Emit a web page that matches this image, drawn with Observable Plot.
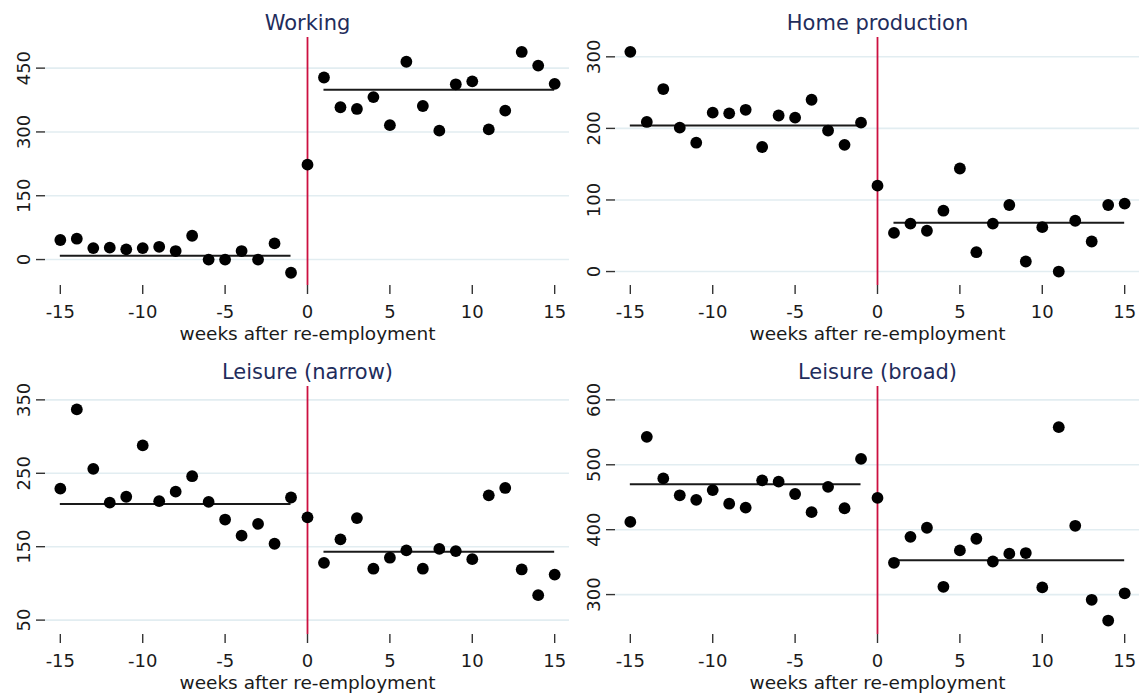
<!DOCTYPE html>
<html>
<head>
<meta charset="utf-8">
<script src="https://cdn.jsdelivr.net/npm/d3@7"></script>
<script src="https://cdn.jsdelivr.net/npm/@observablehq/plot@0.6"></script>
<style>
  html, body { margin: 0; padding: 0; background: #fff; }
  #grid { display: grid; grid-template-columns: 570px 570px; grid-template-rows: 349px 349px; width: 1140px; height: 698px; }
  #grid svg { display: block; }
</style>
</head>
<body>
<div id="grid"></div>
<script>
// ---- data ----
const weeks = [-15,-14,-13,-12,-11,-10,-9,-8,-7,-6,-5,-4,-3,-2,-1,0,1,2,3,4,5,6,7,8,9,10,11,12,13,14,15];
const xTicks = [-15,-10,-5,0,5,10,15];
const xLabel = "weeks after re-employment";

const titles = ["Working", "Home production", "Leisure (narrow)", "Leisure (broad)"];

const working = [46,49,27,28,24,27,30,20,56,0,0,20,0,38,-31,223,428,358,354,382,316,465,361,303,412,419,306,350,488,456,413];
const home    = [307,209,255,201,180,222,221,226,174,218,215,240,197,177,208,120,54,67,57,85,144,27,67,93,14,62,0,71,42,93,95];
const narrow  = [229,337,256,210,218,288,212,225,246,211,187,165,181,154,217,190,128,160,189,120,135,145,120,147,144,133,220,230,119,84,112];
const broad   = [412,543,479,453,446,461,440,434,476,474,455,427,466,433,509,449,349,389,403,312,368,386,351,363,364,311,558,406,292,260,302];

// means before / after re-employment
const workingMeans = [9, 399];
const homeMeans    = [204, 68];
const narrowMeans  = [208, 143];
const broadMeans   = [470, 353];

const workingTicks = [0,150,300,450];
const homeTicks    = [0,100,200,300];
const narrowTicks  = [50,150,250,350];
const broadTicks   = [300,400,500,600];

const panels = [
  {title: titles[0], values: working, means: workingMeans, ticks: workingTicks, domain: [-61, 522]},
  {title: titles[1], values: home,    means: homeMeans,    ticks: homeTicks,    domain: [-19.5, 327]},
  {title: titles[2], values: narrow,  means: narrowMeans,  ticks: narrowTicks,  domain: [30.4, 368.2]},
  {title: titles[3], values: broad,   means: broadMeans,   ticks: broadTicks,   domain: [238.5, 620.6]}
];

const red = "#cc1040";
const navy = "#1f2d5c";
const grid = document.getElementById("grid");

for (const p of panels) {
  const pts = weeks.map((w, i) => ({x: w, y: p.values[i]}));
  const pre = weeks.filter(w => w < 0);
  const post = weeks.filter(w => w > 0);
  const segs = [
    {x1: d3.min(pre), x2: d3.max(pre), y: p.means[0]},
    {x1: d3.min(post), x2: d3.max(post), y: p.means[1]}
  ];
  const chart = Plot.plot({
    width: 570,
    height: 349,
    marginLeft: 45,
    marginRight: 1,
    marginTop: 37,
    marginBottom: 64,
    x: {domain: [-15.9, 15.9]},
    y: {domain: p.domain},
    style: {fontFamily: "'DejaVu Sans', sans-serif", fontSize: "18px", color: "#1a1a1a", background: "#fff"},
    marks: [
      Plot.gridY(p.ticks, {stroke: "#e2edf1", strokeOpacity: 1, strokeWidth: 1.6}),
      Plot.ruleX([0], {stroke: red, strokeWidth: 1.8}),
      Plot.axisY(p.ticks, {tickRotate: -90, tickSize: 9, tickPadding: 7, line: true, stroke: "#333", strokeWidth: 1.4, label: null, tickFormat: d => String(d), fill: "#1a1a1a", fontSize: 18}),
      Plot.axisX(xTicks, {tickSize: 9, tickPadding: 11, line: true, stroke: "#333", strokeWidth: 1.4, label: null, tickFormat: d => String(d), fill: "#1a1a1a", fontSize: 18}),
      Plot.ruleY(segs, {x1: "x1", x2: "x2", y: "y", stroke: "#1a1a1a", strokeWidth: 2}),
      Plot.dot(pts, {x: "x", y: "y", r: 5.9, fill: "#000", stroke: "none"}),
      Plot.text([xLabel], {frameAnchor: "bottom", dy: 54, text: d => d, fontSize: 18.5, fill: "#1a1a1a"}),
      Plot.text([p.title], {frameAnchor: "top", dy: -22, text: d => d, fontSize: 21, fill: navy})
    ]
  });
  grid.appendChild(chart);
}
</script>
</body>
</html>
